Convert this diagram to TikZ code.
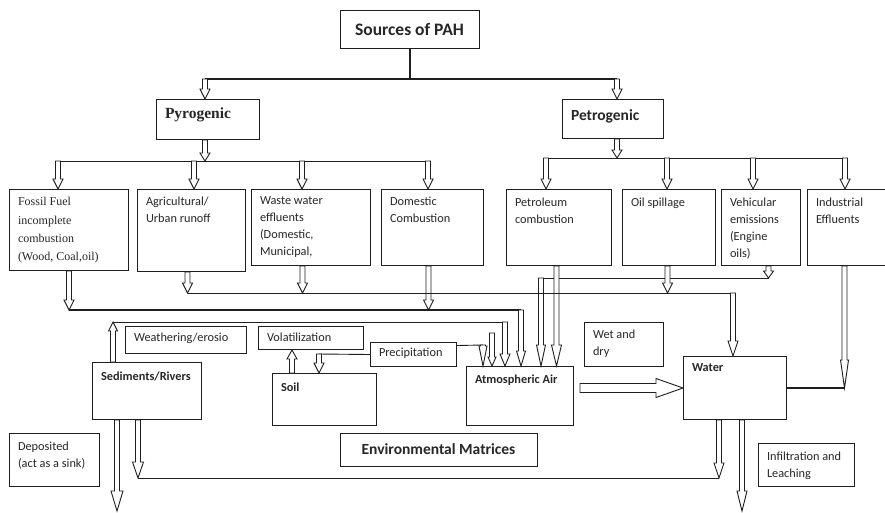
\documentclass[tikz,border=0pt]{standalone}
\usepackage{fontspec}
\setmainfont{Carlito}
\newfontfamily\timesfont{Liberation Serif}
\usepackage{tikz}
\usetikzlibrary{calc,positioning}
\definecolor{pahline}{gray}{0.12}
\definecolor{pahtext}{gray}{0.15}

% box text: [top pad]{width}{height}{text}, set top-left
\newcommand{\cellbox}[4][7pt]{\parbox[t][#3][t]{#2}{\raggedright\leftskip=8.5pt\relax\vskip#1\relax #4\par}}

\tikzset{
  oa shaft/.store in=\oashaft, oa head/.store in=\oahead, oa len/.store in=\oalen,
  oa shaft=2.5pt, oa head=5pt, oa len=10pt,
}

\begin{document}
\begin{tikzpicture}[x=1pt, y=-1pt,
  every node/.style={font=\fontsize{12.3}{17.2}\selectfont, text=pahtext},
  cell/.style={draw=pahline, line width=1pt, inner sep=0pt, anchor=north west},
  titlebox/.style={draw=pahline, line width=1pt, inner sep=0pt, align=center},
  link/.style={draw=pahline, line width=0.9pt},
  heavy/.style={draw=pahline, line width=2pt},
  openarrow/.style={draw=pahline, line width=0.9pt, fill=white, line join=miter,
    to path={let \p1=(\tikztostart), \p2=(\tikztotarget),
                 \n1={atan2(\y2-\y1,\x2-\x1)} in
      ($(\p1)+(\n1+90:\oashaft)$)
      -- ($(\p2)+(\n1+180:\oalen)+(\n1+90:\oashaft)$)
      -- ($(\p2)+(\n1+180:\oalen)+(\n1+90:\oahead)$)
      -- (\p2)
      -- ($(\p2)+(\n1+180:\oalen)+(\n1-90:\oahead)$)
      -- ($(\p2)+(\n1+180:\oalen)+(\n1-90:\oashaft)$)
      -- ($(\p1)+(\n1-90:\oashaft)$) -- cycle}},
]
\useasboundingbox (0,0) rectangle (885,512);

%% ── Sources ───────────────────────────────────────────────────────────────
\node[titlebox, minimum width=139pt, minimum height=38pt,
      font=\fontsize{17.5}{20}\selectfont\bfseries] (src) at (409.5,29) {Sources of PAH};

\node[cell] (pyro)  at (156,99)
  {\cellbox[8pt]{103pt}{40pt}{\timesfont\bfseries\fontsize{15.5}{18}\selectfont Pyrogenic}};
\node[cell] (petro) at (562,99)
  {\cellbox[10pt]{101pt}{39pt}{\bfseries\fontsize{15.5}{18}\selectfont Petrogenic}};

% pyrogenic sources
\node[cell] (fossil) at (9,189)
  {\cellbox[8pt]{119pt}{81pt}{\timesfont\fontsize{12}{18.3}\selectfont Fossil Fuel\\incomplete\\combustion\\(Wood, Coal,oil)}};
\node[cell] (agri)  at (137,189) {\cellbox{108pt}{82pt}{Agricultural/\\Urban runoff}};
\node[cell] (waste) at (251,189) {\cellbox{119pt}{76pt}{Waste water\\effluents\\(Domestic,\\Municipal,}};
\node[cell] (dom)   at (381,189) {\cellbox{102pt}{76pt}{Domestic\\Combustion}};

% petrogenic sources
\node[cell] (petrol) at (506,189) {\cellbox[8pt]{105pt}{76pt}{Petroleum\\combustion}};
\node[cell] (spill)  at (622,189) {\cellbox[8pt]{93pt}{76pt}{Oil spillage}};
\node[cell] (vehic)  at (721,189) {\cellbox[8pt]{79pt}{76pt}{Vehicular\\emissions\\(Engine\\oils)}};
\node[cell] (indus)  at (807,189) {\cellbox[8pt]{80pt}{76pt}{Industrial\\Effluents}};

%% ── Environmental matrices ────────────────────────────────────────────────
\node[cell] (weather) at (125,326) {\cellbox[6pt]{121pt}{27pt}{Weathering/erosio}};
\node[cell] (volat)   at (258,326) {\cellbox[6pt]{105pt}{23pt}{Volatilization}};
\node[cell] (precip)  at (370,342) {\cellbox[5pt]{86pt}{24pt}{Precipitation}};
\node[cell] (wetdry)  at (584,322) {\cellbox{79pt}{44pt}{Wet and\\dry}};

\node[cell] (sed)   at (92,362)  {\cellbox[9pt]{109pt}{57pt}{\bfseries Sediments/Rivers}};
\node[cell] (soil)  at (272,373) {\cellbox[9pt]{104pt}{52pt}{\bfseries Soil}};
\node[cell] (air)   at (466,366) {\cellbox[8pt]{107pt}{59pt}{\bfseries Atmospheric Air}};
\node[cell] (water) at (683,356) {\cellbox{103pt}{63pt}{\bfseries Water}};

\node[cell] (dep)   at (9,433)   {\cellbox[8pt]{90pt}{53pt}{Deposited\\(act as a sink)}};
\node[titlebox, minimum width=197pt, minimum height=33pt,
      font=\fontsize{15.5}{18}\selectfont\bfseries] (env) at (438.5,449.5) {Environmental Matrices};
\node[cell] (infil) at (758,443) {\cellbox[8pt]{96pt}{43pt}{Infiltration and\\Leaching}};

%% ── Junctions ─────────────────────────────────────────────────────────────
\coordinate (split)  at (409.5,79);
\coordinate (pyin)   at (205,79);
\coordinate (pein)   at (617,79);
\coordinate (pybus)  at (205,161);
\coordinate (pybusL) at (58,161);
\coordinate (toagri) at (194,161);
\coordinate (towaste) at (302,161);
\coordinate (pybusR) at (428,161);
\coordinate (pebus)  at (617,158);
\coordinate (pebusL) at (546,158);
\coordinate (tospill) at (667,158);
\coordinate (tovehic) at (753,158);
\coordinate (pebusR) at (845,158);

\coordinate (airbus) at (521,310);
\coordinate (watbus) at (733,293);
\coordinate (vehbus) at (541,278);
\coordinate (sedbus) at (505,322);
\coordinate (airin)  at (492,333);
\coordinate (precR)  at (483,345);
\coordinate (precL)  at (319,354);
\coordinate (lowL)   at (138,478);
\coordinate (lowR)   at (719,478);
\coordinate (sinkend)  at (117,511);
\coordinate (leachend) at (742,511);

\coordinate (domout)   at ([xshift=-4pt]dom.south);
\coordinate (agriout)  at ([xshift=-4pt]agri.south);
\coordinate (wasteout) at ([xshift=-8.5pt]waste.south);
\coordinate (spillout) at ([xshift=-1.5pt]spill.south);
\coordinate (vehout)   at ([xshift=7.5pt]vehic.south);
\coordinate (petout)   at ([xshift=-2.5pt]petrol.south);
\coordinate (indout)   at ([xshift=-3pt]indus.south);
\coordinate (sedup)    at ([xshift=21pt]sed.north west);
\coordinate (sedsink)  at ([xshift=25pt]sed.south west);
\coordinate (sedlow)   at ([xshift=46pt]sed.south west);
\coordinate (soilup)   at ([xshift=20pt]soil.north west);
\coordinate (watlow)   at ([xshift=36pt]water.south west);
\coordinate (watsink)  at ([xshift=59pt]water.south west);
\coordinate (airout)   at ([xshift=6pt,yshift=8pt]air.east);

%% ── Source tree ───────────────────────────────────────────────────────────
\draw[heavy] (src.south) -- (split);
\draw[heavy] (pyin) -- (pein);
\draw[openarrow] (pyin) to (pyin |- pyro.north);
\draw[openarrow] (pein) to (pein |- petro.north);

% pyrogenic branch
\draw[openarrow, oa len=8pt] (pybus |- pyro.south) to (pybus);
\draw[link] (pybusL) -- (pybusR);
\draw[openarrow] (pybusL) to (pybusL |- fossil.north);
\draw[openarrow] (toagri) to (toagri |- agri.north);
\draw[openarrow] (towaste) to (towaste |- waste.north);
\draw[openarrow] (pybusR) to (pybusR |- dom.north);

% petrogenic branch
\draw[openarrow, oa len=8pt] (pebus |- petro.south) to (pebus);
\draw[link] (pebusL) -- (pebusR);
\draw[openarrow] (pebusL) to (pebusL |- petrol.north);
\draw[openarrow] (tospill) to (tospill |- spill.north);
\draw[openarrow] (tovehic) to (tovehic |- vehic.north);
\draw[openarrow] (pebusR) to (pebusR |- indus.north);

%% ── Flows into atmospheric air ────────────────────────────────────────────
% fossil fuel + domestic combustion
\draw[heavy] (fossil.south |- airbus) -- (airbus);
\draw[openarrow] (fossil.south) to (fossil.south |- airbus);
\draw[openarrow] (domout) to (domout |- airbus);
\draw[openarrow, oa len=15pt, oa head=4.5pt] (airbus) to (airbus |- air.north);

% vehicular emissions
\draw[link] (vehbus) -- (vehout |- vehbus);
\draw[openarrow, oa len=7pt] (vehout) to (vehout |- vehbus);
\draw[openarrow, oa len=21pt, oa head=4.5pt] (vehbus) to (vehbus |- air.north);

% petroleum combustion
\draw[openarrow, oa len=21pt] (petout) to (petout |- air.north);

% sediments (weathering)
\draw[link] (sedup |- sedbus) -- (sedbus);
\draw[openarrow, oa len=9pt, oa head=4.5pt] (sedup) to (sedup |- sedbus);
\draw[openarrow, oa len=12pt] (sedbus) to (sedbus |- air.north);

\draw[openarrow, oa len=9pt, oa head=4pt] (airin) to (airin |- air.north);

% precipitation
\draw[link] ([yshift=9pt]precip.east) -- (precR);
\draw[openarrow, oa len=20pt, oa head=4pt] (precR) to (precR |- air.north);
\draw[link] (precip.west) -- (precL);
\draw[openarrow, oa len=10pt] (precL) to (precL |- soil.north);

% volatilization
\draw[openarrow, oa len=9pt] (soilup) to (soilup |- volat.south);

%% ── Flows into water ──────────────────────────────────────────────────────
\draw[link] (agriout |- watbus) -- (watbus);
\draw[openarrow] (agriout) to (agriout |- watbus);
\draw[openarrow] (wasteout) to (wasteout |- watbus);
\draw[openarrow] (spillout) to (spillout |- watbus);
\draw[openarrow, oa len=15pt, oa head=5pt] (watbus) to (watbus |- water.north);

% air -> water (wet and dry)
\draw[openarrow, oa shaft=4.5pt, oa head=9.5pt, oa len=27pt] (airout) to (airout -| water.west);

% industrial effluents
\draw[heavy] (water.east) -- (water.east -| indout);
\draw[openarrow, oa len=28pt, oa head=4pt] (indout) to (indout |- water.east);

%% ── Sinks ─────────────────────────────────────────────────────────────────
\draw[link] (lowL) -- (lowR);
\draw[openarrow, oa len=16pt, oa head=5.5pt] (sedlow) to (lowL);
\draw[openarrow, oa len=15pt, oa head=5pt] (watlow) to (lowR);
\draw[openarrow, oa len=20pt, oa head=6pt] (sedsink) to (sinkend);
\draw[openarrow, oa len=20pt, oa head=5pt] (watsink) to (leachend);

\end{tikzpicture}
\end{document}
